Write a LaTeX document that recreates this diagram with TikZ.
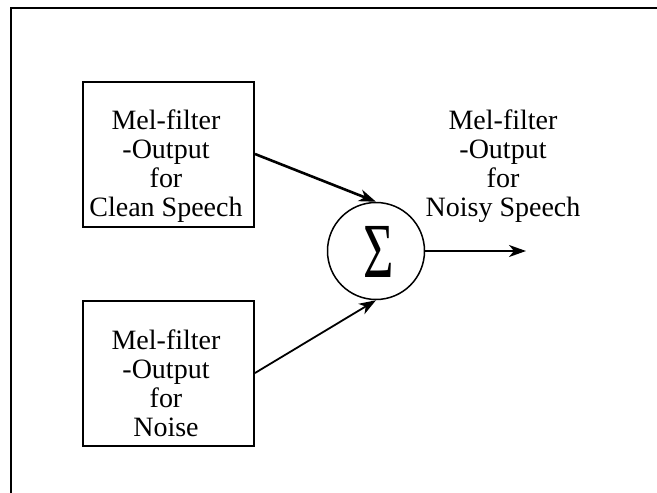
\documentclass[tikz,border=0pt]{standalone}
\usepackage{fontspec}
\setmainfont{Liberation Serif}
\usetikzlibrary{arrows.meta}
\tikzset{
  blockbox/.style={draw, line width=2pt, minimum width=171pt, minimum height=145pt, inner sep=0pt},
  blocktext/.style={anchor=north, align=center, inner sep=0pt, font=\fontsize{28}{28.7}\selectfont},
  sumnode/.style={draw, circle, line width=1.5pt, minimum size=97pt, inner sep=0pt},
  tip/.style={-{Stealth[length=17pt, width=12pt, inset=5pt]}},
}
\begin{document}
\begin{tikzpicture}[x=1pt, y=-1pt]
  \useasboundingbox (0,0) rectangle (657,493);
  \clip (0,0) rectangle (657,493);
  % outer frame, running off the right and bottom
  \draw[line width=2.6pt] (11,8) rectangle (700,540);

  % input blocks
  \node[blockbox] (clean) at (168.5,154) {};
  \node[blocktext] (cleantxt) at (166,110) {Mel-filter\\-Output\\for\\Clean Speech};
  \node[blockbox] (noise) at (168.5,373) {};
  \node[blocktext] (noisetxt) at (166,330) {Mel-filter\\-Output\\for\\Noise};

  % summing junction
  \node[sumnode] (sum) at (376,251) {};
  \node (sigma) at (379,252) {\scalebox{0.67}[1]{\fontsize{78}{80}\selectfont Σ}};

  % output label
  \node[blocktext] (outtxt) at (503,110) {Mel-filter\\-Output\\for\\Noisy Speech};
  \coordinate (out) at (526,251);

  % connectors
  \draw[tip, line width=2.6pt] (clean.east) -- (sum.north);
  \draw[tip, line width=1.8pt] (noise.east) -- (sum.south);
  \draw[tip, line width=1.8pt] (sum.east) -- (out);
\end{tikzpicture}
\end{document}
